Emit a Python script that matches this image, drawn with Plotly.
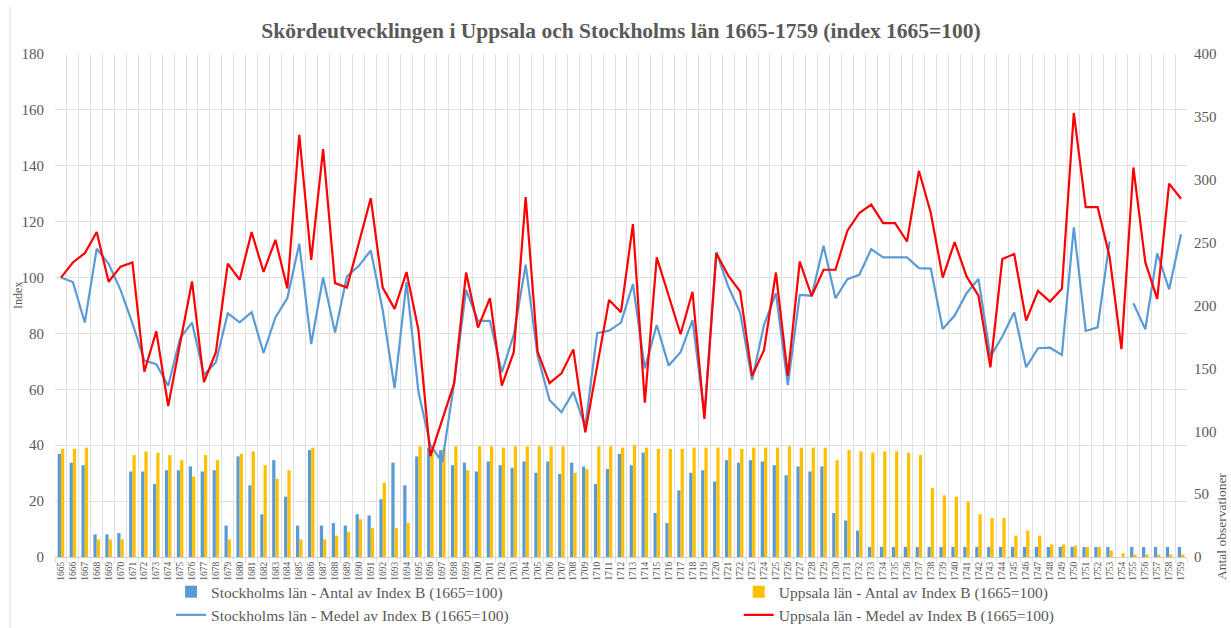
import plotly.graph_objects as go

years = [str(y) for y in range(1665, 1760)]

sthlm_count = [82, 75, 73, 18, 18, 19, 68, 68, 58, 69,
               69, 72, 68, 69, 25, 80, 57, 34, 77, 48,
               25, 85, 25, 27, 25, 34, 33, 46, 75, 57,
               80, 87, 85, 73, 75, 68, 76, 73, 71, 76,
               67, 76, 66, 75, 72, 58, 70, 82, 73, 83,
               35, 27, 53, 67, 69, 60, 77, 75, 77, 76,
               73, 65, 72, 68, 72, 35, 29, 21, 8, 8,
               8, 8, 8, 8, 8, 8, 8, 8, 8, 8,
               8, 8, 8, 8, 8, 8, 8, 8, 8, None,
               8, 8, 8, 8, 8]

uppsala_count = [86, 86, 87, 14, 14, 14, 81, 84, 83, 81,
                 77, 64, 81, 77, 14, 82, 84, 73, 62, 69,
                 14, 87, 14, 17, 20, 30, 23, 59, 23, 27,
                 88, 86, 86, 88, 69, 88, 88, 87, 88, 88,
                 88, 88, 88, 67, 70, 88, 88, 87, 89, 87,
                 86, 86, 86, 87, 87, 87, 87, 86, 87, 87,
                 87, 88, 87, 87, 87, 77, 85, 84, 83, 84,
                 84, 83, 81, 55, 49, 48, 44, 34, 31, 31,
                 17, 21, 17, 10, 10, 9, 8, 8, 5, 3,
                 2, 2, 2, 2, 2]

sthlm_mean = [100, 98.4, 83.9, 110.3, 104.9, 95.6, 83.6, 70.3, 69, 61.3,
              78.3, 83.9, 65.1, 69.7, 87.2, 84, 87.6, 73, 85.7, 92.7,
              112.1, 76.2, 100, 80.3, 100.4, 104.2, 109.7, 88.4, 60.4, 98.4,
              59.1, 40, 34, 62.4, 95.6, 84.5, 84.5, 66.1, 79.5, 104.6,
              72, 56.2, 51.8, 59.1, 46.6, 80.1, 81, 83.9, 97.7, 67.5,
              83, 68.5, 73.3, 84.8, 51, 109.1, 96.8, 87.5, 63.3, 83,
              94.4, 61.5, 93.8, 93.5, 111.4, 92.6, 99.4, 101, 110.2, 107.2,
              107.2, 107.2, 103.4, 103.2, 81.6, 86.4, 94.4, 99.5, 71.7, 78.9,
              87.6, 67.9, 74.7, 74.9, 72.3, 118, 80.9, 82.2, 112.9, None,
              90.8, 81.5, 108.7, 95.8, 115.5]

uppsala_mean = [100, 105.4, 108.7, 116.3, 98.5, 103.9, 105.4, 66.3, 80.8, 54,
                76.5, 98.6, 62.6, 73.3, 105, 99.2, 116.3, 102, 113.5, 96.1,
                151.1, 106.3, 146, 98, 96.4, 112, 128.4, 96.4, 88.8, 102,
                81.3, 36.1, 49, 62.2, 101.8, 82.1, 92.6, 61.3, 73.3, 128.8,
                73.5, 62.2, 65.7, 74.3, 44.6, 68.1, 92, 87.6, 119.1, 55.2,
                107.2, 93.5, 79.7, 94.9, 49.4, 108.7, 100.7, 95, 64.8, 74,
                101.8, 64.8, 105.7, 93.4, 102.8, 102.8, 116.8, 123.1, 126.1, 119.5,
                119.5, 112.9, 138.2, 123.1, 100, 112.7, 100.4, 93.5, 67.9, 106.6,
                108.4, 84.6, 95.2, 91.4, 96, 158.9, 125.2, 125.2, 107.5, 74.4,
                139.4, 105.5, 92.4, 133.6, 128.2]

FONT = "Liberation Serif, Times New Roman, serif"
GRAY = "#595959"
GRID = "#E0E0E0"

fig = go.Figure()
fig.add_trace(go.Bar(x=years, y=sthlm_count, name="Stockholms län - Antal av Index B (1665=100)",
                     marker_color="#5B9BD5", marker_line_width=0, yaxis="y", legend="legend"))
fig.add_trace(go.Bar(x=years, y=uppsala_count, name="Uppsala län - Antal av Index B (1665=100)",
                     marker_color="#FFC000", marker_line_width=0, yaxis="y", legend="legend2"))
fig.add_trace(go.Scatter(x=years, y=sthlm_mean, name="Stockholms län - Medel av Index B (1665=100)",
                         mode="lines", line=dict(color="#5B9BD5", width=2.2), yaxis="y2",
                         connectgaps=False, legend="legend"))
fig.add_trace(go.Scatter(x=years, y=uppsala_mean, name="Uppsala län - Medel av Index B (1665=100)",
                         mode="lines", line=dict(color="#FF0000", width=2.2), yaxis="y2",
                         legend="legend2"))

legend_common = dict(orientation="v", yanchor="top", xanchor="left",
                     font=dict(size=15.5, color=GRAY, family=FONT),
                     traceorder="normal", bgcolor="rgba(0,0,0,0)", tracegroupgap=0)

fig.update_layout(
    width=1231, height=628,
    margin=dict(l=55, r=44, t=54, b=71, autoexpand=False),
    paper_bgcolor="white", plot_bgcolor="white",
    font=dict(family=FONT, color=GRAY),
    barmode="group", bargap=0.45, bargroupgap=0.0,
    title=dict(text="<b>Skördeutvecklingen i Uppsala och Stockholms län 1665-1759 (index 1665=100)</b>",
               x=0.5, xref="paper", xanchor="center", y=1 - 30 / 628, yanchor="middle",
               font=dict(family=FONT, size=21.5, color=GRAY)),
    xaxis=dict(type="category", tickangle=-90, tickfont=dict(size=9.5, color=GRAY, family=FONT),
               tickmode="array", tickvals=years, ticktext=years,
               showgrid=True, gridcolor=GRID, gridwidth=1, tickson="boundaries",
               ticks="outside", ticklen=5, tickcolor=GRID,
               showline=True, linecolor="#D0D0D0", automargin=False),
    yaxis=dict(range=[0, 400], dtick=50, side="right", showgrid=False, zeroline=False,
               tickfont=dict(size=15, color=GRAY, family=FONT), ticklabelstandoff=6,
               automargin=False),
    yaxis2=dict(range=[0, 180], dtick=20, side="left", overlaying="y", anchor="x",
                showgrid=True, gridcolor=GRID, gridwidth=1, zeroline=False,
                tickfont=dict(size=15, color=GRAY, family=FONT), ticklabelstandoff=10,
                automargin=False),
    legend=dict(x=0.1025, y=-0.036, **legend_common),
    legend2=dict(x=0.604, y=-0.036, **legend_common),
    showlegend=True,
)

fig.add_annotation(text="Index", x=-0.0327, y=0.521, xref="paper", yref="paper",
                   xanchor="center", yanchor="middle",
                   textangle=-90, showarrow=False, font=dict(size=12, color=GRAY, family=FONT))
fig.add_annotation(text="Antal observationer", x=1.030, y=0.0616, xref="paper", yref="paper",
                   xanchor="center", yanchor="middle",
                   textangle=-90, showarrow=False, font=dict(size=13.5, color=GRAY, family=FONT))

fig.add_shape(type="line", xref="paper", yref="paper", x0=-0.0398, x1=-0.0398,
              y0=-0.15, y1=1.0934, line=dict(color="#D9D9D9", width=1))

fig.write_html("out.html", config={"displayModeBar": False},
               post_script="document.body.style.margin='0px';")
